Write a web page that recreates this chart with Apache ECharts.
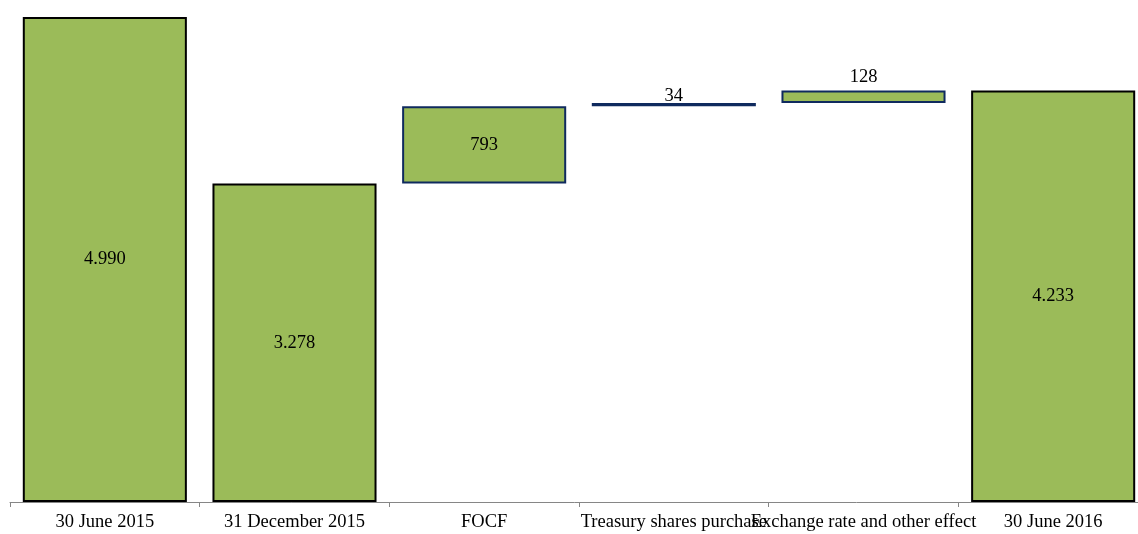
<!DOCTYPE html>
<html>
	<head>
		<meta charset="UTF-8">
		<title>Waterfall</title>
		<script src="https://cdn.jsdelivr.net/npm/echarts@6/dist/echarts.min.js"></script>
	</head>
	<body style="margin:0;">
		<div id="main" style="width: 1138px;height:534px;"></div>
		<script type="text/javascript">
		var categories = ['30 June 2015', '31 December 2015', 'FOCF', 'Treasury shares purchase', 'Exchange rate and other effect', '30 June 2016'];
		var values = [4990, 3278, 793, 34, 128, 4233];
		var bases = [0, 0, 3278, 4071, 4105, 0];
		var isTotal = [true, true, false, false, false, true];

		function fmt(v){
			return String(v).replace(/\B(?=(\d{3})+(?!\d))/g, '.');
		}

		var barData = [];
		for (var i=0; i<values.length; i++) {
			var item = {
				value: values[i],
				itemStyle: {
					color: '#9bbb59',
					borderColor: isTotal[i] ? '#000000' : '#0f2a5e',
					borderWidth: 2
				}
			};
			if (i == 3) {
				item.label = { position: 'top', distance: -3 };
			} else if (i == 4) {
				item.label = { position: 'top', distance: 4 };
			}
			barData.push(item);
		}

		var myChart = echarts.init(document.getElementById('main'));
		var option = {
			animation: false,
			grid: { left: 10, right: -10, top: 16, bottom: 32, containLabel: false, outerBoundsMode: 'none' },
			xAxis: {
				type: 'category',
				data: categories,
				axisLine: { lineStyle: { color: '#868686', width: 1 } },
				axisTick: { show: true, length: 5, lineStyle: { color: '#868686' } },
				axisLabel: {
					interval: 0,
					color: '#000',
					fontFamily: 'Liberation Serif',
					fontSize: 18.5,
					margin: 11
				}
			},
			yAxis: {
				type: 'value',
				min: 0,
				max: 5000,
				show: false,
				splitLine: { show: false }
			},
			series: [{
				type: 'bar',
				stack: 'w',
				barWidth: '86.5%',
				itemStyle: { color: 'transparent' },
				data: bases,
				silent: true
			}, {
				type: 'bar',
				stack: 'w',
				data: barData,
				label: {
					show: true,
					position: 'inside',
					color: '#000',
					fontFamily: 'Liberation Serif',
					fontSize: 18.5,
					formatter: function(p){ return fmt(p.value); }
				}
			}]
		};
		myChart.setOption(option);
		</script>
	</body>
</html>
